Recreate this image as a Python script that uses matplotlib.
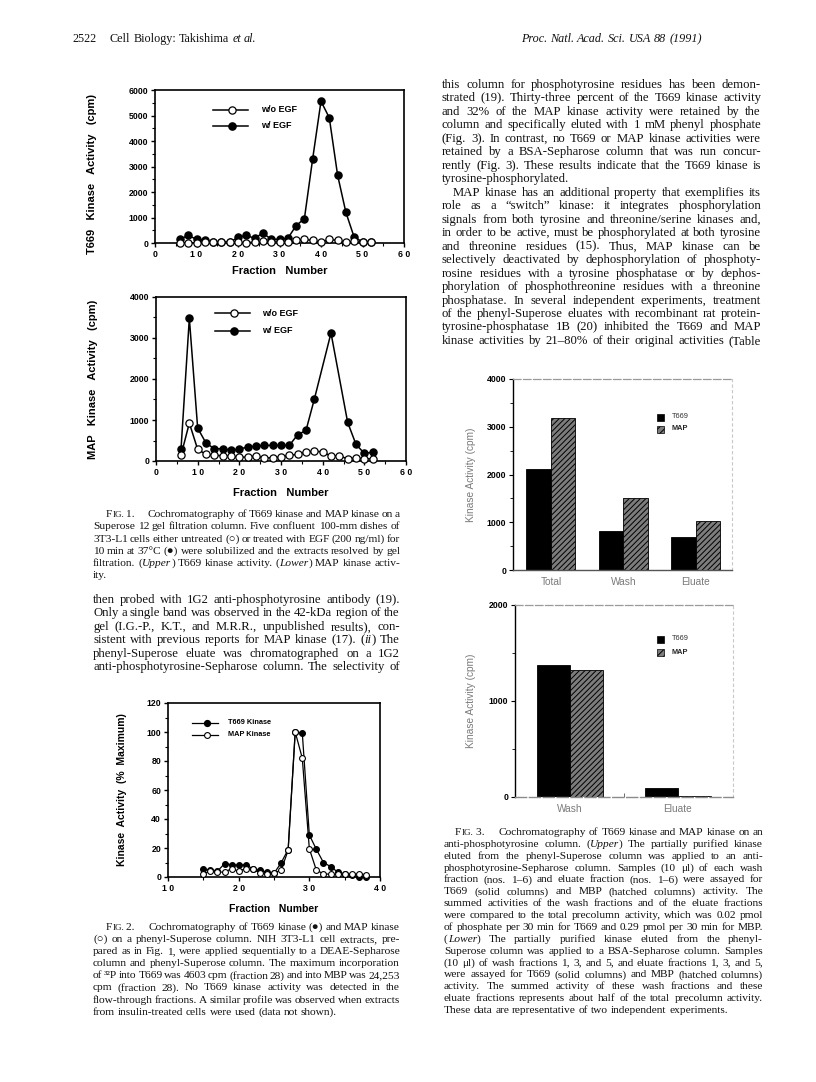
import matplotlib
matplotlib.use("Agg")
import matplotlib.pyplot as plt
from matplotlib.ticker import MultipleLocator
import numpy as np

W, H = 816, 1082
DPI = 100

# ---------------- data ----------------
# Fig 1 upper: T669 kinase activity (cpm)
f1_fractions = [6, 8, 10, 12, 14, 16, 18, 20, 22, 24, 26, 28, 30, 32, 34, 36, 38, 40, 42, 44, 46, 48, 50, 52]
f1u_woEGF = [0, 0, 0, 50, 30, 30, 30, 20, 10, 40, 60, 40, 40, 30, 100, 140, 100, 20, 140, 100, 30, 60, 30, 30]
f1u_wEGF = [144, 300, 144, 105, 26, 26, 26, 223, 300, 183, 393, 144, 144, 183, 680, 956, 3310, 5560, 4910, 2660, 1200, 223, 52, 52]

# Fig 1 lower: MAP kinase activity (cpm)
f1l_woEGF = [138, 925, 284, 162, 138, 130, 114, 89, 97, 122, 73, 81, 97, 138, 162, 227, 235, 227, 114, 130, 49, 73, 57, 49]
f1l_wEGF_fr = [6, 8, 10, 12, 14, 16, 18, 20, 22, 24, 26, 28, 30, 32, 34, 36, 38, 42, 46, 48, 50, 52]
f1l_wEGF = [284, 3480, 803, 438, 300, 300, 260, 292, 340, 365, 381, 381, 381, 381, 641, 746, 1508, 3122, 941, 405, 187, 211]

f1_xticklabels = ["0", "1 0", "2 0", "3 0", "4 0", "5 0", "6 0"]

# Fig 2: phenyl-Superose (% maximum)
f2_fractions = list(range(15, 39))
f2_t669 = [5.3, 4.6, 4.0, 9.2, 8.5, 8.0, 8.5, 5.7, 4.6, 3.4, 2.5, 9.7, 18.9, 100, 99.5, 29, 19, 10, 7.2, 3.5, 2.0, 1.5, 0, 0]
f2_map = [2.3, 3.9, 3.4, 3.4, 5.7, 4.1, 5.7, 5.3, 2.8, 2.3, 3.0, 4.6, 18.4, 100, 82, 19.5, 4.6, 2.3, 1.8, 1.8, 1.8, 1.8, 2.3, 1.6]
f2_xticklabels = ["1 0", "2 0", "3 0", "4 0"]

# Fig 3
f3u_categories = ["Total", "Wash", "Eluate"]
f3u_t669 = [2120, 820, 695]
f3u_map = [3180, 1510, 1030]
f3l_categories = ["Wash", "Eluate"]
f3l_t669 = [1375, 95]
f3l_map = [1320, 10]

# ---------------- text ----------------
header_left_num = "2522"
header_left = "Cell Biology: Takishima ~et ~al."
header_right = "~Proc. ~Natl. ~Acad. ~Sci. ~USA ~88 ~(1991)"

fig1_caption = [
    "FIG. 1.\u2003 Cochromatography of T669 kinase and MAP kinase on a",
    "Superose 12 gel filtration column. Five confluent 100-mm dishes of",
    "3T3-L1 cells either untreated (\u25cb) or treated with EGF (200 ng/ml) for",
    "10 min at 37\u00b0C (\u25cf) were solubilized and the extracts resolved by gel",
    "filtration. (~Upper) T669 kinase activity. (~Lower) MAP kinase activ-",
    "ity.",
]
left_body = [
    "then probed with 1G2 anti-phosphotyrosine antibody (19).",
    "Only a single band was observed in the 42-kDa region of the",
    "gel (I.G.-P., K.T., and M.R.R., unpublished results), con-",
    "sistent with previous reports for MAP kinase (17). (~ii) The",
    "phenyl-Superose eluate was chromatographed on a 1G2",
    "anti-phosphotyrosine-Sepharose column. The selectivity of",
]
fig2_caption = [
    "FIG. 2.\u2003 Cochromatography of T669 kinase (\u25cf) and MAP kinase",
    "(\u25cb) on a phenyl-Superose column. NIH 3T3-L1 cell extracts, pre-",
    "pared as in Fig. 1, were applied sequentially to a DEAE-Sepharose",
    "column and phenyl-Superose column. The maximum incorporation",
    "of \u00b3\u00b2P into T669 was 4603 cpm (fraction 28) and into MBP was 24,253",
    "cpm (fraction 28). No T669 kinase activity was detected in the",
    "flow-through fractions. A similar profile was observed when extracts",
    "from insulin-treated cells were used (data not shown).",
]
right_body = [
    "this column for phosphotyrosine residues has been demon-",
    "strated (19). Thirty-three percent of the T669 kinase activity",
    "and 32% of the MAP kinase activity were retained by the",
    "column and specifically eluted with 1 mM phenyl phosphate",
    "(Fig. 3). In contrast, no T669 or MAP kinase activities were",
    "retained by a BSA-Sepharose column that was run concur-",
    "rently (Fig. 3). These results indicate that the T669 kinase is",
    "tyrosine-phosphorylated.",
    "MAP kinase has an additional property that exemplifies its",
    "role as a \u201cswitch\u201d kinase: it integrates phosphorylation",
    "signals from both tyrosine and threonine/serine kinases and,",
    "in order to be active, must be phosphorylated at both tyrosine",
    "and threonine residues (15). Thus, MAP kinase can be",
    "selectively deactivated by dephosphorylation of phosphoty-",
    "rosine residues with a tyrosine phosphatase or by dephos-",
    "phorylation of phosphothreonine residues with a threonine",
    "phosphatase. In several independent experiments, treatment",
    "of the phenyl-Superose eluates with recombinant rat protein-",
    "tyrosine-phosphatase 1B (20) inhibited the T669 and MAP",
    "kinase activities by 21\u201380% of their original activities (Table",
]
fig3_caption = [
    "FIG. 3.\u2003 Cochromatography of T669 kinase and MAP kinase on an",
    "anti-phosphotyrosine column. (~Upper) The partially purified kinase",
    "eluted from the phenyl-Superose column was applied to an anti-",
    "phosphotyrosine-Sepharose column. Samples (10 \u03bcl) of each wash",
    "fraction (nos. 1\u20136) and eluate fraction (nos. 1\u20136) were assayed for",
    "T669 (solid columns) and MBP (hatched columns) activity. The",
    "summed activities of the wash fractions and of the eluate fractions",
    "were compared to the total precolumn activity, which was 0.02 pmol",
    "of phosphate per 30 min for T669 and 0.29 pmol per 30 min for MBP.",
    "(~Lower) The partially purified kinase eluted from the phenyl-",
    "Superose column was applied to a BSA-Sepharose column. Samples",
    "(10 \u03bcl) of wash fractions 1, 3, and 5, and eluate fractions 1, 3, and 5,",
    "were assayed for T669 (solid columns) and MBP (hatched columns)",
    "activity. The summed activity of these wash fractions and these",
    "eluate fractions represents about half of the total precolumn activity.",
    "These data are representative of two independent experiments.",
]

# ---------------- figure ----------------
fig = plt.figure(figsize=(W / DPI, H / DPI), dpi=DPI)
fig.patch.set_facecolor("white")
renderer = fig.canvas.get_renderer()

SERIF = ["Liberation Serif", "DejaVu Serif", "DejaVu Sans"]
SANS = ["Liberation Sans", "DejaVu Sans"]
TXT = "#111111"


def fx(x):
    return x / W


def fy(y):
    return 1 - y / H


def axes_px(left, top, right, bottom):
    return fig.add_axes([fx(left), fy(bottom), (right - left) / W, (bottom - top) / H])


def word_artist(word, x, y, size, draw=True):
    italic = False
    if word.startswith("~"):
        italic = True
        word = word[1:]
    if word.startswith("FIG."):
        t1 = fig.text(fx(x), fy(y), "F", fontsize=size, family=SERIF, va="baseline", color=TXT)
        w1 = t1.get_window_extent(renderer).width
        t2 = fig.text(fx(x + w1), fy(y), "IG." + word[4:], fontsize=size * 0.8, family=SERIF,
                      va="baseline", color=TXT)
        w2 = t2.get_window_extent(renderer).width
        if not draw:
            t1.remove(); t2.remove()
        return w1 + w2
    if "(~" in word:
        pre, rest = word.split("(~", 1)
        pre = pre + "("
        if ")" in rest:
            it, post = rest.split(")", 1)
            post = ")" + post
        else:
            it, post = rest, ""
        segs = [(pre, False), (it, True), (post, False)]
    else:
        segs = [(word, italic)]
    cx = x
    arts = []
    for s, it in segs:
        if not s:
            continue
        t = fig.text(fx(cx), fy(y), s, fontsize=size, family=SERIF, va="baseline",
                     style="italic" if it else "normal", color=TXT)
        cx += t.get_window_extent(renderer).width
        arts.append(t)
    if not draw:
        for a in arts:
            a.remove()
    return cx - x


def text_line(line, x0, x1, y, size, justify=True):
    words = [w for w in line.split(" ") if w != ""]
    while True:
        widths = [word_artist(w, 0, -100, size, draw=False) for w in words]
        space = word_artist("a", 0, -100, size, draw=False) * 0.55
        if justify and len(words) > 1:
            gap = (x1 - x0 - sum(widths)) / (len(words) - 1)
            if gap < space * 0.55 and size > 5:
                size -= 0.1
                continue
        else:
            gap = space
        break
    cx = x0
    for w, wd in zip(words, widths):
        word_artist(w, cx, y, size)
        cx += wd + gap


def paragraph(lines, x0, x1, y0, dy, size, first_indent=0, no_just=(), indent_lines=(), justify_last=False):
    for i, line in enumerate(lines):
        xs = x0 + (first_indent if i == 0 else 0)
        if i in indent_lines:
            xs = x0 + 11
        just = (i != len(lines) - 1 or justify_last) and (i not in no_just)
        text_line(line, xs, x1, y0 + i * dy, size, justify=just)


# header
fig.text(fx(72), fy(42), header_left_num, fontsize=8.7, family=SERIF, va="baseline", color=TXT)
text_line(header_left, 110, 245, 42, 8.7, justify=False)
text_line(header_right, 521, 713, 42, 8.7, justify=False)

# captions and body text
CAP = 8.2
BODY = 9.2
paragraph(fig1_caption, 93, 400, 517, 12.3, CAP, first_indent=13)
paragraph(left_body, 93, 400, 603, 13.45, BODY, justify_last=True)
paragraph(fig2_caption, 93, 400, 930, 12.1, CAP, first_indent=13)
paragraph(right_body, 442, 761, 88, 13.47, BODY, no_just=(7,), indent_lines=(8,), justify_last=True)
paragraph(fig3_caption, 444, 763, 835, 11.87, CAP, first_indent=11)

# ---------------- Fig 1 ----------------
BOLD = dict(family=SANS, fontweight="bold")


def style_fig1_axes(ax):
    for s in ax.spines.values():
        s.set_linewidth(1.2)
        s.set_color("black")
    ax.tick_params(which="major", direction="out", length=3, width=1, labelsize=6.3, pad=2)
    ax.tick_params(which="minor", direction="out", length=2, width=0.8)
    for lab in ax.get_xticklabels() + ax.get_yticklabels():
        lab.set_fontweight("bold")
        lab.set_family(SANS)


line_kw = dict(color="black", lw=1.1, ms=5.2, mew=0.9, clip_on=False)

# upper
ax1 = axes_px(155, 90, 404, 243)
ax1.plot(f1_fractions, f1u_woEGF, "o-", mfc="white", mec="black", zorder=3, **line_kw)
ax1.plot(f1_fractions, f1u_wEGF, "o-", mfc="black", mec="black", zorder=2, **line_kw)
ax1.set_xlim(0, 60)
ax1.set_ylim(0, 6000)
ax1.set_xticks(range(0, 61, 10))
ax1.set_xticklabels(f1_xticklabels)
ax1.set_yticks(range(0, 6001, 1000))
ax1.yaxis.set_minor_locator(MultipleLocator(500))
ax1.xaxis.set_minor_locator(MultipleLocator(5))
style_fig1_axes(ax1)
ax1.set_xlabel("Fraction   Number", fontsize=8, labelpad=5, **BOLD)
ax1.set_ylabel("T669   Kinase   Activity   (cpm)", fontsize=8, **BOLD)
ax1.yaxis.set_label_coords((97 - 155) / (404 - 155), 0.45)
ax1.plot([0.233, 0.373], [0.87, 0.87], "-", color="black", lw=1.1, transform=ax1.transAxes)
ax1.plot([0.31], [0.87], "o", mfc="white", mec="black", ms=5.2, mew=0.9, transform=ax1.transAxes)
ax1.plot([0.233, 0.373], [0.765, 0.765], "-", color="black", lw=1.1, transform=ax1.transAxes)
ax1.plot([0.31], [0.765], "o", mfc="black", mec="black", ms=5.2, transform=ax1.transAxes)
ax1.text(0.425, 0.87, "w/o EGF", transform=ax1.transAxes, va="center", fontsize=6.5, **BOLD)
ax1.text(0.425, 0.765, "w/ EGF", transform=ax1.transAxes, va="center", fontsize=6.5, **BOLD)

# lower
ax2 = axes_px(156, 297, 406, 461)
ax2.plot(f1_fractions, f1l_woEGF, "o-", mfc="white", mec="black", zorder=3, **line_kw)
ax2.plot(f1l_wEGF_fr, f1l_wEGF, "o-", mfc="black", mec="black", zorder=2, **line_kw)
ax2.set_xlim(0, 60)
ax2.set_ylim(0, 4000)
ax2.set_xticks(range(0, 61, 10))
ax2.set_xticklabels(f1_xticklabels)
ax2.set_yticks(range(0, 4001, 1000))
ax2.yaxis.set_minor_locator(MultipleLocator(500))
ax2.xaxis.set_minor_locator(MultipleLocator(5))
style_fig1_axes(ax2)
ax2.set_xlabel("Fraction   Number", fontsize=8, labelpad=8, **BOLD)
ax2.set_ylabel("MAP   Kinase   Activity   (cpm)", fontsize=8, **BOLD)
ax2.yaxis.set_label_coords((98 - 156) / (406 - 156), 0.5)
ax2.plot([0.235, 0.375], [0.9, 0.9], "-", color="black", lw=1.1, transform=ax2.transAxes)
ax2.plot([0.31], [0.9], "o", mfc="white", mec="black", ms=5.2, mew=0.9, transform=ax2.transAxes)
ax2.plot([0.235, 0.375], [0.795, 0.795], "-", color="black", lw=1.1, transform=ax2.transAxes)
ax2.plot([0.31], [0.795], "o", mfc="black", mec="black", ms=5.2, transform=ax2.transAxes)
ax2.text(0.425, 0.9, "w/o EGF", transform=ax2.transAxes, va="center", fontsize=6.5, **BOLD)
ax2.text(0.425, 0.795, "w/ EGF", transform=ax2.transAxes, va="center", fontsize=6.5, **BOLD)

# ---------------- Fig 2 ----------------
ax3 = axes_px(168, 703, 380, 877)
ax3.plot(f2_fractions, f2_t669, "o-", mfc="black", mec="black", color="black", lw=0.9, ms=4.2, mew=0.8,
         zorder=2, clip_on=False)
ax3.plot(f2_fractions, f2_map, "o-", mfc="white", mec="black", color="black", lw=0.9, ms=4.2, mew=0.8,
         zorder=3, clip_on=False)
ax3.set_xlim(10, 40)
ax3.set_ylim(0, 120)
ax3.set_xticks([10, 20, 30, 40])
ax3.set_xticklabels(f2_xticklabels)
ax3.set_yticks(range(0, 121, 20))
ax3.yaxis.set_minor_locator(MultipleLocator(10))
ax3.xaxis.set_minor_locator(MultipleLocator(5))
style_fig1_axes(ax3)
ax3.set_xlabel("Fraction   Number", fontsize=7.5, labelpad=8, **BOLD)
ax3.set_ylabel("Kinase  Activity  (%  Maximum)", fontsize=7.5, **BOLD)
ax3.yaxis.set_label_coords((127 - 168) / (380 - 168), 0.5)
ax3.plot([0.115, 0.235], [0.887, 0.887], "-", color="black", lw=0.9, transform=ax3.transAxes)
ax3.plot([0.185], [0.887], "o", mfc="black", mec="black", ms=4.2, transform=ax3.transAxes)
ax3.plot([0.115, 0.235], [0.818, 0.818], "-", color="black", lw=0.9, transform=ax3.transAxes)
ax3.plot([0.185], [0.818], "o", mfc="white", mec="black", ms=4.2, mew=0.8, transform=ax3.transAxes)
ax3.text(0.285, 0.887, "T669 Kinase", transform=ax3.transAxes, va="center", fontsize=5.3, **BOLD)
ax3.text(0.285, 0.818, "MAP Kinase", transform=ax3.transAxes, va="center", fontsize=5.3, **BOLD)

# ---------------- Fig 3 ----------------
plt.rcParams["hatch.linewidth"] = 0.7
GRAYTXT = "#7a7a7a"


def style_fig3_axes(ax, ymax, step, dashed_bottom=False):
    ax.spines["left"].set_linewidth(1.0)
    ax.spines["bottom"].set_linewidth(1.0)
    ax.spines["bottom"].set_color("#555555")
    if dashed_bottom:
        ax.spines["bottom"].set_color("#8a8a8a")
        ax.spines["bottom"].set_linestyle((0, (8, 2)))
    ax.spines["top"].set_color("#9a9a9a")
    ax.spines["top"].set_linestyle((0, (6, 2)))
    ax.spines["top"].set_linewidth(0.9)
    ax.spines["right"].set_color("#c8c8c8")
    ax.spines["right"].set_linestyle((0, (2, 3)))
    ax.spines["right"].set_linewidth(0.8)
    ax.set_ylim(0, ymax)
    ax.set_yticks(np.arange(0, ymax + 1, step))
    ax.yaxis.set_minor_locator(MultipleLocator(step / 2))
    ax.tick_params(axis="y", which="major", direction="out", length=3, labelsize=6.3, pad=2)
    ax.tick_params(axis="y", which="minor", direction="out", length=2)
    ax.tick_params(axis="x", length=0, labelsize=7.3, labelcolor=GRAYTXT, pad=5)
    for lab in ax.get_yticklabels():
        lab.set_fontweight("bold")
        lab.set_family(SANS)
    for lab in ax.get_xticklabels():
        lab.set_family(SANS)


def bars(ax, cats, t669, mp, width):
    x = np.arange(len(cats))
    ax.bar(x - width / 2, t669, width, color="black", edgecolor="black", lw=0.6, zorder=2)
    ax.bar(x + width / 2, mp, width, color="#7c7c7c", edgecolor="black", hatch="//////", lw=0.6, zorder=2)
    ax.set_xticks(x)
    ax.set_xticklabels(cats)


ax4 = axes_px(513, 379, 732, 570)
bars(ax4, f3u_categories, f3u_t669, f3u_map, 0.338)
ax4.set_xlim(-0.524, 2.497)
style_fig3_axes(ax4, 4000, 1000)
ax4.set_ylabel("Kinase Activity (cpm)", fontsize=7.3, color=GRAYTXT, family=SANS)
ax4.yaxis.set_label_coords((476 - 513) / (732 - 513), 0.5)

ax5 = axes_px(515, 605, 733, 797)
bars(ax5, f3l_categories, f3l_t669, f3l_map, 0.305)
ax5.set_xlim(-0.51, 1.51)
style_fig3_axes(ax5, 2000, 1000, dashed_bottom=True)
ax5.set_ylabel("Kinase Activity (cpm)", fontsize=7.3, color=GRAYTXT, family=SANS)
ax5.yaxis.set_label_coords((476 - 515) / (733 - 515), 0.5)
ax5.set_xticks([0.5], minor=True)
ax5.tick_params(axis="x", which="minor", length=3, direction="in", color="#555555")

for (lx, ly1, ly2) in [(660, 417, 429), (660, 639, 652)]:
    fig.patches.append(plt.Rectangle((fx(lx - 3.5), fy(ly1 + 3.5)), 7 / W, 7 / H, transform=fig.transFigure,
                                     facecolor="black", edgecolor="black", lw=0.5, figure=fig))
    fig.patches.append(plt.Rectangle((fx(lx - 3.5), fy(ly2 + 3.5)), 7 / W, 7 / H, transform=fig.transFigure,
                                     facecolor="#7c7c7c", edgecolor="black", hatch="/////", lw=0.5, figure=fig))
    fig.text(fx(672), fy(ly1), "T669", fontsize=5.3, va="center", family=SANS, color="#333333")
    fig.text(fx(672), fy(ly2), "MAP", fontsize=5.3, va="center", family=SANS, fontweight="bold", color="#222222")

fig.savefig("out.png", dpi=DPI)
